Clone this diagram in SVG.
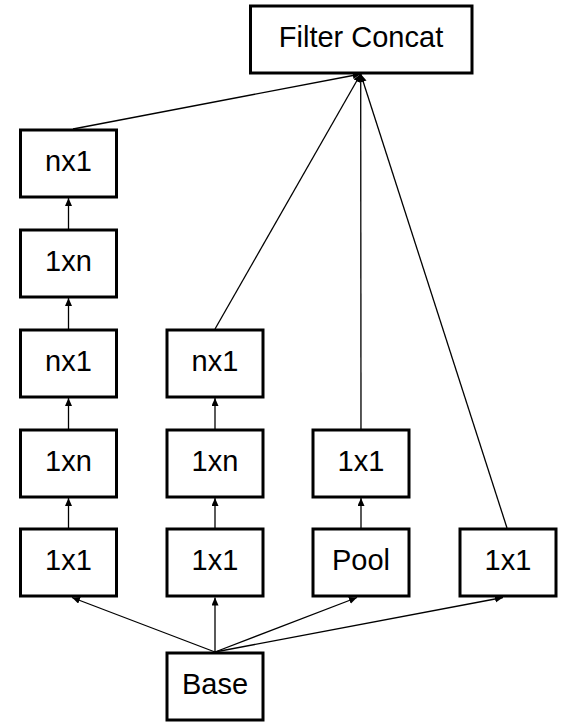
<svg xmlns="http://www.w3.org/2000/svg" width="563" height="722" viewBox="0 0 563 722">
<style>
.box{fill:#fff;stroke:#000;stroke-width:3}
.lbl{font-family:"Liberation Sans",Arial,sans-serif;font-size:29px;fill:#000;text-anchor:middle}
.edge{stroke:#000;stroke-width:1.3;fill:none;marker-end:url(#ah)}
</style>
<defs>
<marker id="ah" markerUnits="userSpaceOnUse" markerWidth="9" markerHeight="8" refX="8" refY="3.5" orient="auto">
<path d="M0,0 L8,3.5 L0,7 z" fill="#000"/>
</marker>
</defs>
<rect width="563" height="722" fill="#fff"/>
<g id="connectors">
<line class="edge" x1="68.5" y1="229" x2="68.5" y2="198"/>
<line class="edge" x1="68.5" y1="329" x2="68.5" y2="298"/>
<line class="edge" x1="68.5" y1="429" x2="68.5" y2="398"/>
<line class="edge" x1="68.5" y1="528" x2="68.5" y2="498"/>
<line class="edge" x1="215" y1="429" x2="215" y2="398"/>
<line class="edge" x1="215" y1="528" x2="215" y2="498"/>
<line class="edge" x1="361" y1="528" x2="361" y2="498"/>
<line class="edge" x1="215" y1="652" x2="72" y2="597.5"/>
<line class="edge" x1="215" y1="652" x2="215" y2="597.5"/>
<line class="edge" x1="215" y1="652" x2="357" y2="597.5"/>
<line class="edge" x1="215" y1="652" x2="503" y2="597.5"/>
<line class="edge" x1="73" y1="129" x2="360.7" y2="74"/>
<line class="edge" x1="215" y1="329" x2="360.7" y2="74"/>
<line class="edge" x1="361" y1="429" x2="360.7" y2="74"/>
<line class="edge" x1="507" y1="528" x2="360.7" y2="74"/>
</g>
<g id="filter-concat"><rect class="box" x="250.5" y="6" width="221.5" height="67"/><text class="lbl" x="361" y="47">Filter Concat</text></g>
<g id="c1-nx1-top"><rect class="box" x="20.5" y="130" width="96" height="67"/><text class="lbl" x="68.5" y="171">nx1</text></g>
<g id="c1-1xn-top"><rect class="box" x="20.5" y="230" width="96" height="67"/><text class="lbl" x="68.5" y="271">1xn</text></g>
<g id="c1-nx1"><rect class="box" x="20.5" y="330" width="96" height="67"/><text class="lbl" x="68.5" y="371">nx1</text></g>
<g id="c1-1xn"><rect class="box" x="20.5" y="430" width="96" height="67"/><text class="lbl" x="68.5" y="471">1xn</text></g>
<g id="c1-1x1"><rect class="box" x="20.5" y="529" width="96" height="67"/><text class="lbl" x="68.5" y="570">1x1</text></g>
<g id="c2-nx1"><rect class="box" x="167" y="330" width="96" height="67"/><text class="lbl" x="215" y="371">nx1</text></g>
<g id="c2-1xn"><rect class="box" x="167" y="430" width="96" height="67"/><text class="lbl" x="215" y="471">1xn</text></g>
<g id="c2-1x1"><rect class="box" x="167" y="529" width="96" height="67"/><text class="lbl" x="215" y="570">1x1</text></g>
<g id="c3-1x1"><rect class="box" x="313" y="430" width="96" height="67"/><text class="lbl" x="361" y="471">1x1</text></g>
<g id="c3-pool"><rect class="box" x="313" y="529" width="96" height="67"/><text class="lbl" x="361" y="570">Pool</text></g>
<g id="c4-1x1"><rect class="box" x="460" y="529" width="96" height="67"/><text class="lbl" x="508" y="570">1x1</text></g>
<g id="base"><rect class="box" x="167" y="653" width="96" height="67"/><text class="lbl" x="215" y="694">Base</text></g>
</svg>
